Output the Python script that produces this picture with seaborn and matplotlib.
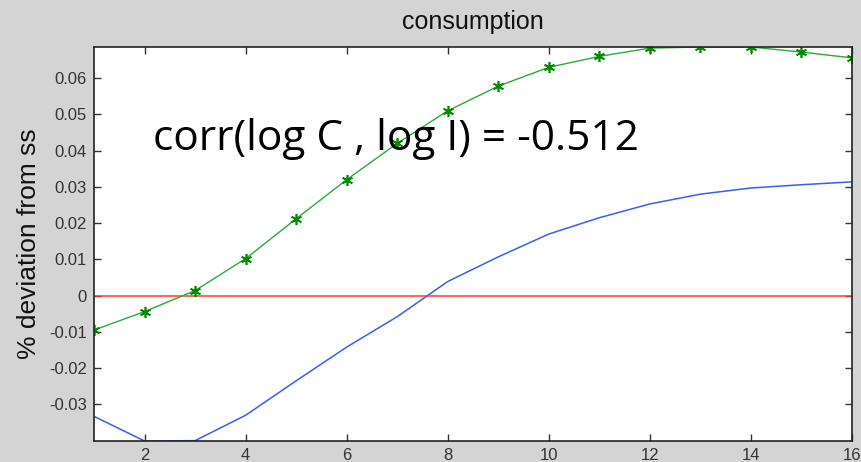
import numpy as np
import pandas as pd
import matplotlib
matplotlib.use("Agg")
import matplotlib.pyplot as plt
import seaborn as sns

periods = list(range(1, 17))
model_c = [-0.0095, -0.0044, 0.0014, 0.0102, 0.0212, 0.0320, 0.0420, 0.0510,
           0.0578, 0.0630, 0.0660, 0.0683, 0.0686, 0.0686, 0.0672, 0.0656]
data_c = [-0.0333, -0.0401, -0.0400, -0.0330, -0.0235, -0.0142, -0.0058, 0.0039,
          0.0107, 0.0170, 0.0215, 0.0253, 0.0280, 0.0297, 0.0306, 0.0314]
steady = [0.0] * 16
title = "consumption"
ylabel = "% deviation from ss"
annot = "corr(log C , log I) = -0.512"
yticks = [-0.03, -0.02, -0.01, 0, 0.01, 0.02, 0.03, 0.04, 0.05, 0.06]
ytick_labels = ["-0.03", "-0.02", "-0.01", "0", "0.01", "0.02", "0.03", "0.04", "0.05", "0.06"]
xticks = [2, 4, 6, 8, 10, 12, 14, 16]

df = pd.DataFrame({"t": periods, "green": model_c, "blue": data_c, "red": steady})

sns.set_theme(style="white")
plt.rcParams["font.family"] = ["Liberation Sans", "DejaVu Sans"]

fig = plt.figure(figsize=(8.62, 4.62), dpi=100, facecolor="#d4d4d4")
ax = fig.add_axes([94/862, 1 - 441/462, (852-94)/862, (441-47)/462])
ax.set_facecolor("white")

sns.lineplot(data=df, x="t", y="blue", ax=ax, color="#3a5cff", linewidth=1.1)
sns.lineplot(data=df, x="t", y="red", ax=ax, color="#ff3a2a", linewidth=1.1)
sns.lineplot(data=df, x="t", y="green", ax=ax, color="#2aaa3a", linewidth=1.0,
             marker=(6, 2, 0), markersize=8, markeredgecolor="#008a00",
             markeredgewidth=1.2)

ax.set_xlim(1, 16)
ax.set_ylim(min(data_c), max(model_c))
ax.set_xticks(xticks)
ax.set_xticklabels([str(v) for v in xticks])
ax.set_yticks(yticks)
ax.set_yticklabels(ytick_labels)
ax.tick_params(axis="both", which="both", direction="in", length=5, width=1,
               top=True, right=True, bottom=True, left=True,
               labelsize=12, colors="#333333", pad=5)
for s in ax.spines.values():
    s.set_color("#222222")
    s.set_linewidth(1.2)
ax.set_xlabel("")
ax.set_ylabel(ylabel, fontsize=19, color="#111111", labelpad=6)
ax.set_title(title, fontsize=18, color="#111111", pad=13)

ax.text(2.17, 0.0402, annot, fontsize=30.5, color="black", va="baseline", ha="left",
        family=["Open Sans", "DejaVu Sans"])

fig.savefig("out.png", dpi=100, facecolor=fig.get_facecolor())
